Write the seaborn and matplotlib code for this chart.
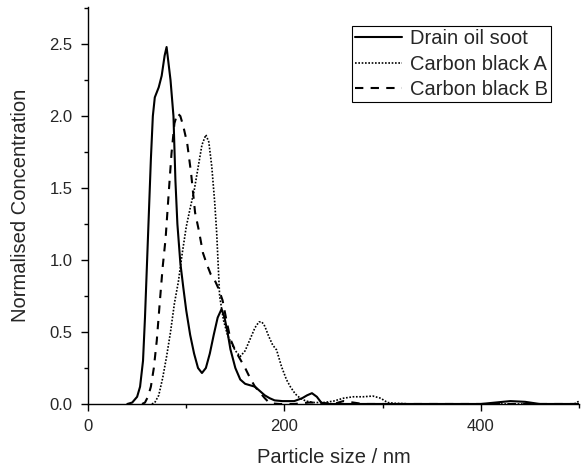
import numpy as np
import pandas as pd
import matplotlib
matplotlib.use("Agg")
import matplotlib.pyplot as plt
import seaborn as sns
from matplotlib.ticker import MultipleLocator, FormatStrFormatter

# ---- data ----
soot_x = [40, 45, 50, 53, 56, 58, 61, 64, 66, 68, 72, 75, 78, 80, 84, 87, 89, 91, 94, 97,
          100, 104, 108, 112, 116, 120, 124, 128, 132, 136, 139, 142, 145, 150, 155, 160,
          165, 170, 175, 180, 185, 190, 198, 210, 218, 223, 228, 233, 238, 245, 300, 400,
          415, 430, 445, 460, 500]
soot_y = [0.0, 0.01, 0.05, 0.12, 0.3, 0.6, 1.15, 1.7, 2.0, 2.13, 2.2, 2.28, 2.42, 2.48,
          2.25, 2.0, 1.55, 1.25, 0.98, 0.81, 0.65, 0.48, 0.35, 0.25, 0.215, 0.25, 0.35,
          0.48, 0.6, 0.66, 0.6, 0.5, 0.38, 0.25, 0.17, 0.14, 0.13, 0.12, 0.09, 0.06, 0.04,
          0.025, 0.02, 0.02, 0.04, 0.06, 0.075, 0.05, 0.005, 0.0, 0.0, 0.0, 0.01, 0.02,
          0.015, 0.0, 0.0]

cbA_x = [65, 68, 72, 76, 80, 84, 88, 92, 96, 100, 104, 108, 112, 116, 120, 123, 126, 129,
         131, 134, 138, 142, 146, 150, 155, 160, 165, 170, 174, 177, 180, 184, 188, 192,
         197, 202, 206, 211, 216, 222, 230, 240, 250, 260, 270, 280, 290, 298, 305, 312,
         330, 400, 495, 500]
cbA_y = [0.0, 0.01, 0.06, 0.18, 0.33, 0.5, 0.7, 0.85, 1.05, 1.23, 1.36, 1.48, 1.64, 1.8,
         1.87, 1.82, 1.65, 1.4, 1.19, 0.75, 0.58, 0.48, 0.42, 0.37, 0.33, 0.37, 0.45, 0.53,
         0.57, 0.57, 0.54, 0.47, 0.41, 0.375, 0.26, 0.17, 0.12, 0.07, 0.04, 0.02, 0.01,
         0.01, 0.02, 0.04, 0.05, 0.05, 0.055, 0.04, 0.01, 0.005, 0.0, 0.0, 0.0, 0.02]

cbB_x = [55, 58, 61, 64, 67, 70, 73, 76, 79, 82, 85, 88, 91, 94, 97, 101, 105, 109, 113,
         117, 121, 125, 129, 133, 137, 141, 145, 150, 155, 160, 165, 170, 175, 180, 185,
         195, 210, 225, 235, 250, 260, 270, 280, 300, 500]
cbB_y = [0.0, 0.01, 0.05, 0.12, 0.25, 0.44, 0.7, 0.95, 1.15, 1.45, 1.74, 1.95, 2.02, 2.0,
         1.93, 1.81, 1.6, 1.33, 1.2, 1.05, 0.97, 0.9, 0.86, 0.8, 0.72, 0.58, 0.45, 0.37,
         0.31, 0.25, 0.18, 0.12, 0.08, 0.04, 0.005, 0.0, 0.0, 0.01, 0.01, 0.0, 0.02, 0.01,
         0.0, 0.0, 0.0]

series_names = ["Drain oil soot", "Carbon black A", "Carbon black B"]
x_label = "Particle size / nm"
y_label = "Normalised Concentration"

# ---- styling ----
sns.set_style("ticks")
plt.rcParams["font.family"] = ["Liberation Sans", "DejaVu Sans"]

fig = plt.figure(figsize=(5.86, 4.68), dpi=100)
ax = fig.add_axes([0.1502, 0.1368, 0.838, 0.848])

styles = [
    dict(linestyle="-", linewidth=1.5),
    dict(linestyle=(0, (1, 1)), linewidth=1.2),
    dict(linestyle=(0, (4, 3.5)), linewidth=1.5),
]
data = [(soot_x, soot_y), (cbA_x, cbA_y), (cbB_x, cbB_y)]
for (xs, ys), name, st in zip(data, series_names, styles):
    df = pd.DataFrame({"x": xs, "y": ys})
    sns.lineplot(data=df, x="x", y="y", ax=ax, color="black", label=name,
                 estimator=None, sort=False, **st)

ax.set_xlim(0, 500)
ax.set_ylim(0, 2.757)
ax.xaxis.set_major_locator(MultipleLocator(200))
ax.xaxis.set_minor_locator(MultipleLocator(100))
ax.yaxis.set_major_locator(MultipleLocator(0.5))
ax.yaxis.set_minor_locator(MultipleLocator(0.25))
ax.yaxis.set_major_formatter(FormatStrFormatter("%.1f"))

ax.tick_params(which="major", direction="out", length=5, width=1.0, labelsize=12,
               pad=6, color="black")
ax.tick_params(which="minor", direction="out", length=3, width=1.0, color="black")
for s in ["top", "right"]:
    ax.spines[s].set_visible(False)
for s in ["left", "bottom"]:
    ax.spines[s].set_linewidth(1.0)
    ax.spines[s].set_color("black")

ax.set_xlabel(x_label, fontsize=14.5, labelpad=10)
ax.set_ylabel(y_label, fontsize=14.5, labelpad=14)

leg = ax.legend(loc="upper right", bbox_to_anchor=(0.943, 0.952), fontsize=14.5,
                frameon=True, fancybox=False, framealpha=1, edgecolor="black",
                handlelength=2.35, handletextpad=0.4, borderpad=0.15,
                labelspacing=0.32, borderaxespad=0)
leg.get_frame().set_linewidth(0.8)

fig.savefig("out.png", dpi=100)
